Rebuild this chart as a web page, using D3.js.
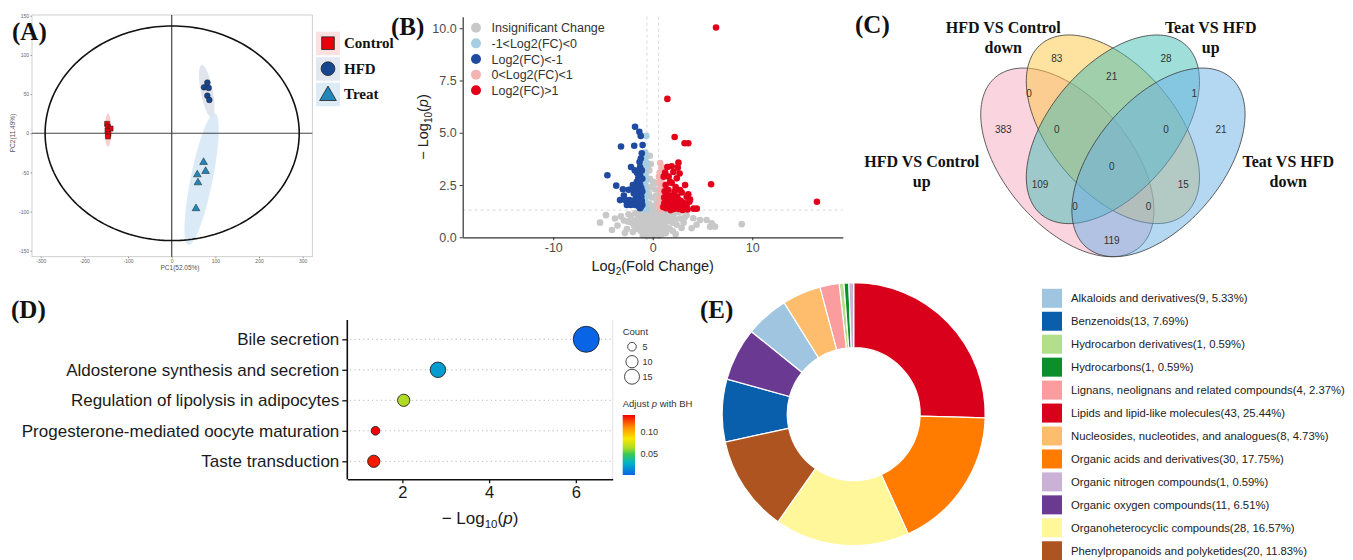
<!DOCTYPE html>
<html>
<head>
<meta charset="utf-8">
<script src="https://cdn.jsdelivr.net/npm/d3@7"></script>
<style>
  body { margin: 0; background: #fff; }
  svg { display: block; font-family: "Liberation Sans", Arial, sans-serif; }
  .panel-tag { font-family: "Liberation Serif", "Times New Roman", serif; font-weight: bold; font-size: 25px; }
  .serif-b { font-family: "Liberation Serif", "Times New Roman", serif; font-weight: bold; }
</style>
</head>
<body>
<svg id="fig" width="1353" height="560"></svg>
<script>
// ---------- data ----------
// (A) PCA scores
const pcaGroups = ["Control", "HFD", "Treat"];
const pcaControl = [[-148, 12], [-146, 8], [-140, 6], [-147, 3], [-145, -1], [-146, -4]];
const pcaHFD = [[74, 58.7], [81.6, 64.7], [84.6, 57.9], [81.6, 48], [86.2, 42.5]];
const pcaTreat = [[73, -37], [77.6, -48.5], [58.6, -52.8], [60.1, -63], [55.6, -96]];
// confidence ellipses: centre, semi-diameter u, conjugate semi-diameter v (data units)
const pcaEllControl = { c: [-146, 4], u: [0, 21], v: [7.5, 0] };
const pcaEllHFD = { c: [80.2, 53.8], u: [-11.5, 33.4], v: [13.5, 1.4] };
const pcaEllTreat = { c: [68.5, -58.6], u: [30.5, 84.1], v: [24.7, -2.8] };
const pcaEllAll = { c: [1, 0], u: [291, 0], v: [0, 137] };
const pcaXTicks = [-300, -200, -100, 0, 100, 200, 300];
const pcaYTicks = [-150, -100, -50, 0, 50, 100, 150];

// (B) volcano: [log2FC, -log10 p]
const volcanoGray = [[-0.3,3.9],[-0.2,3.5],[-0.35,3.2],[0.05,2.65],[0.3,2.6],[-0.3,2.8],[-0.25,2.4],[0.2,2.3],[-0.4,2.1],[0.35,2.0],[-0.1,1.9],[0.4,1.7],[-0.35,1.6],[0.1,1.5],[0.45,1.4],[-0.45,1.35],
  [-1.5,1.2],[-1.2,1.0],[-0.9,1.15],[-0.6,1.25],[-0.3,1.1],[0,1.2],[0.3,1.05],[0.6,1.2],[0.9,1.1],[1.2,1.0],[1.5,1.15],
  [-1.8,0.8],[-1.4,0.7],[-1.0,0.85],[-0.7,0.6],[-0.4,0.9],[-0.1,0.75],[0.2,0.9],[0.5,0.7],[0.8,0.85],[1.1,0.6],[1.4,0.75],[1.8,0.9],
  [-1.6,0.4],[-1.2,0.3],[-0.8,0.45],[-0.5,0.25],[-0.2,0.5],[0.1,0.35],[0.4,0.55],[0.7,0.3],[1.0,0.45],[1.3,0.2],[1.7,0.4],
  [-1.0,0.1],[-0.6,0.05],[-0.3,0.15],[0,0.05],[0.3,0.12],[0.6,0.08],[0.9,0.15],[-0.15,0.3],[0.15,0.62],[-0.8,1.0],
  [-5.3,0.7],[-4.7,1.06],[-3.54,0.56],[-2.9,0.8],[-2.43,1.1],[-2.1,0.7],[-2.6,0.4],[-2.2,1.0],[-1.9,0.55],
  [2.1,1.1],[2.4,0.6],[2.74,0.9],[3.1,0.7],[3.4,1.05],[3.91,0.43],[4.08,0.91],[4.4,0.6],[4.75,0.83],[5.42,0.83],[5.76,0.5],[5.93,0.67],[6.26,0.51],[8.94,0.63],[2.0,0.3],[2.3,0.15],
  [-2.8,0.2],[-3.2,1.0],[-2.5,0.75],[-1.75,1.15],[-1.3,0.55],[-0.95,0.3],[-0.55,0.75],[-0.25,0.95],[0.05,0.45],[0.25,0.25],[0.55,0.95],[0.85,0.55],[1.15,0.85],[1.45,0.45],[1.65,1.05],[1.95,0.7],[2.25,0.85],[2.6,1.2],[2.9,0.45],[3.2,0.95],
  [-1.45,0.95],[-1.05,0.6],[-0.7,0.2],[-0.35,0.65],[0.35,0.8],[0.75,1.0],[1.05,0.25],[-2.0,0.25],[-4.1,0.35],[-3.8,0.9],[0.0,0.9],[0.5,0.4],[-0.6,1.05],[1.3,1.25],[-1.1,1.25],[-0.15,1.25],[0.2,1.25]];
const volcanoLightBlue = [[-0.65,4.85],[-0.75,4.05],[-0.7,3.85],[-0.8,3.6],[-0.68,3.4],[-0.85,3.2],[-0.72,3.0],[-0.9,2.85],[-0.66,2.7],[-0.78,2.55],[-0.88,2.4],[-0.7,2.25],[-0.82,2.1],[-0.65,1.95],[-0.92,1.85],[-0.75,1.75],[-0.68,1.6],[-0.85,1.5],[-0.72,1.42],[-0.9,1.35],[-0.62,1.33],[-0.8,2.95],[-0.95,2.2],[-0.66,3.6],[-0.88,3.75]];
const volcanoBlue = [[-1.78,5.29],[-1.35,5.05],[-1.21,4.85],[-3.19,4.34],[-1.86,4.38],[-1.02,4.41],[-1.1,4.02],[-1.2,3.77],[-1.33,3.6],[-1.27,3.36],[-2.18,3.36],[-1.8,3.2],[-1.57,3.07],[-1.27,2.97],[-4.56,2.97],[-3.67,2.47],[-3.0,2.3],[-2.43,2.27],[-2.1,2.3],[-1.6,2.35],[-1.27,2.51],[-1.05,2.19],[-1.27,2.74],[-1.6,2.66],[-1.33,2.0],[-1.6,1.97],[-3.29,1.78],[-2.78,1.78],[-2.34,1.78],[-1.95,1.75],[-1.54,1.7],[-1.1,1.75],[-1.05,1.55],[-1.78,1.55],[-1.27,1.39],[-1.9,2.1],[-1.4,2.25],[-1.15,1.95],[-1.45,1.5],[-2.0,2.5],[-1.1,3.2],[-1.05,2.8],
  [-1.15,2.35],[-1.45,2.85],[-1.7,1.85],[-2.2,1.55],[-2.6,1.55],[-1.35,1.6],[-1.2,1.45],[-2.9,2.0]];
const volcanoPink = [[0.75,3.55],[0.9,3.35],[0.7,3.1],[0.85,2.85],[0.68,2.65],[0.8,2.4],[0.72,2.2],[0.9,2.0],[0.7,1.85],[0.82,1.7],[0.66,1.55],[0.88,1.45],[0.74,1.35],[0.95,2.6],[0.62,2.9]];
const volcanoRed = [[6.36,10.03],[1.47,6.62],[2.2,4.8],[3.2,4.5],[3.57,4.5],[2.58,3.57],[2.51,3.33],[1.47,3.36],[2.07,3.12],[2.7,3.05],[1.1,2.9],[1.74,2.66],[2.41,2.82],[3.25,2.5],[2.74,2.26],[1.57,2.26],[1.34,2.02],[2.07,1.98],[2.57,1.79],[3.41,1.94],[1.54,1.79],[1.17,1.63],[1.74,1.55],[2.24,1.47],[2.91,1.55],[3.25,1.39],[1.34,1.39],[3.68,1.7],[5.86,2.54],[2.91,2.14],[3.57,2.06],[3.75,1.8],[3.5,1.33],[4.1,1.37],[4.42,1.37],[16.5,1.7],[1.2,2.2],[1.9,2.0],[1.4,1.9],[2.3,2.4],[1.8,1.3],[2.6,1.35],[1.05,1.45],[1.25,1.75],[2.0,1.75],[1.6,1.5],[3.0,1.3],
  [1.3,2.5],[1.6,2.9],[1.9,2.6],[2.2,2.2],[2.45,1.95],[2.8,1.75],[3.1,1.65],[1.15,1.9],[1.45,1.6],[2.1,1.35],[2.4,1.6],[2.75,1.4],[3.4,1.5],[1.9,3.4],[1.25,3.1]];
const volcanoLabels = ["Insignificant Change", "-1<Log2(FC)<0", "Log2(FC)<-1", "0<Log2(FC)<1", "Log2(FC)>1"];
const volcanoXTicks = [-10, 0, 10];
const volcanoYTicks = [0, 2.5, 5, 7.5, 10];
const fcCut = 0.585, pCut = 1.3;

// (C) Venn
const vennSets = ["HFD VS Control up", "HFD VS Control down", "Teat VS HFD up", "Teat VS HFD down"];
const vennCounts = [83, 28, 21, 0, 1, 383, 0, 0, 21, 0, 109, 15, 0, 0, 119];

// (D) KEGG enrichment
const pathways = ["Bile secretion", "Aldosterone synthesis and secretion", "Regulation of lipolysis in adipocytes",
  "Progesterone-mediated oocyte maturation", "Taste transduction"];
const pathNegLogP = [6.24, 2.82, 2.03, 1.38, 1.34];
const pathCount = [45, 16, 10, 5, 10];
const pathPadj = [0.003, 0.022, 0.064, 0.137, 0.132];
const countBreaks = [5, 10, 15];
const padjTicks = [0.05, 0.10];
const enrichXTicks = [2, 4, 6];

// (E) compound classes
const classNames = ["Alkaloids and derivatives", "Benzenoids", "Hydrocarbon derivatives", "Hydrocarbons",
  "Lignans, neolignans and related compounds", "Lipids and lipid-like molecules", "Nucleosides, nucleotides, and analogues",
  "Organic acids and derivatives", "Organic nitrogen compounds", "Organic oxygen compounds",
  "Organoheterocyclic compounds", "Phenylpropanoids and polyketides"];
const classCounts = [9, 13, 1, 1, 4, 43, 8, 30, 1, 11, 28, 20];

// ---------- styles ----------
const pcaColors = ["#e8000b", "#17458f", "#2386b8"];
const pcaEllColors = ["#f7c6c6", "#d9dfea", "#d3e6f4"];
const pcaLegendBg = ["#fde0e0", "#e4e9f1", "#dcebf6"];
const volcanoColors = ["#c8c8c8", "#a6cee3", "#1f4aa0", "#f4b4b2", "#e3001b"];
const vennColors = ["#f5a9bd", "#fbc541", "#41bdb5", "#69afe5"];
const classColors = ["#9fc5e0", "#0a5fad", "#b2df8a", "#0a8f2a", "#fb9d9e", "#d9001b", "#fdbd6c",
  "#ff7c00", "#cab2d6", "#6a3a92", "#fff799", "#ae5420"];
const padjStops = [0.003, 0.03, 0.05, 0.063, 0.085, 0.11, 0.137];
const padjColors = ["#0a64e6", "#00b4c8", "#3cc850", "#aadc28", "#fae600", "#ff8c00", "#f00000"];

const svg = d3.select("#fig");

// ================= (A) PCA =================
const ax = d3.scaleLinear().domain([-320, 322]).range([32, 312.3]);
const ay = d3.scaleLinear().domain([-157.6, 151]).range([256.7, 15]);
const gA = svg.append("g");

const ellPoints = (e, n = 120) => d3.range(n + 1).map(i => {
  const t = i / n * 2 * Math.PI;
  return [e.c[0] + Math.cos(t) * e.u[0] + Math.sin(t) * e.v[0],
          e.c[1] + Math.cos(t) * e.u[1] + Math.sin(t) * e.v[1]];
});
const lineA = d3.line().x(d => ax(d[0])).y(d => ay(d[1]));

gA.append("rect").attr("x", 32).attr("y", 15).attr("width", 280.3).attr("height", 241.7)
  .attr("fill", "none").attr("stroke", "#c4c4c4").attr("stroke-width", 0.8);

const axA = gA.append("g").attr("transform", "translate(0,256.7)")
  .call(d3.axisBottom(ax).tickValues(pcaXTicks).tickSize(1.5).tickSizeOuter(0).tickPadding(1.5).tickFormat(d => String(d)));
const ayA = gA.append("g").attr("transform", "translate(32,0)")
  .call(d3.axisLeft(ay).tickValues(pcaYTicks).tickSize(1.5).tickSizeOuter(0).tickPadding(1.5).tickFormat(d => String(d)));
[axA, ayA].forEach(a => {
  a.select(".domain").remove();
  a.selectAll("line").attr("stroke", "#999");
  a.selectAll("text").attr("font-size", 5).attr("fill", "#666");
});
gA.append("text").attr("x", 180).attr("y", 270).attr("text-anchor", "middle")
  .attr("font-size", 6.5).attr("fill", "#555").text("PC1(52.05%)");
gA.append("text").attr("transform", "translate(15,133) rotate(-90)").attr("text-anchor", "middle")
  .attr("font-size", 6.5).attr("fill", "#555").text("PC2(11.49%)");

[pcaEllControl, pcaEllHFD, pcaEllTreat].forEach((e, i) => {
  gA.append("path").attr("d", lineA(ellPoints(e))).attr("fill", pcaEllColors[i]).attr("opacity", 0.85);
});
// zero lines
gA.append("line").attr("x1", ax(0)).attr("x2", ax(0)).attr("y1", 15).attr("y2", 256.7).attr("stroke", "#444").attr("stroke-width", 1.2);
gA.append("line").attr("x1", 32).attr("x2", 312.3).attr("y1", ay(0)).attr("y2", ay(0)).attr("stroke", "#444").attr("stroke-width", 1.2);
gA.append("path").attr("d", lineA(ellPoints(pcaEllAll, 200))).attr("fill", "none").attr("stroke", "#111").attr("stroke-width", 1.6);

const pcaShapes = [d3.symbolSquare, d3.symbolCircle, d3.symbolTriangle];
[pcaControl, pcaHFD, pcaTreat].forEach((pts, i) => {
  gA.append("g").selectAll("path").data(pts).join("path")
    .attr("transform", d => `translate(${ax(d[0])},${ay(d[1])})`)
    .attr("d", d3.symbol(pcaShapes[i], 26))
    .attr("fill", pcaColors[i]).attr("stroke", "#222").attr("stroke-width", 0.5);
});

// legend A
const legA = gA.append("g").selectAll("g").data(pcaGroups).join("g")
  .attr("transform", (d, i) => `translate(316,${31.7 + i * 25.5})`);
legA.append("rect").attr("width", 24).attr("height", 23.5).attr("fill", (d, i) => pcaLegendBg[i]);
legA.append("path").attr("transform", (d, i) => `translate(12,${i === 2 ? 13 : 11.5})`)
  .attr("d", (d, i) => d3.symbol(pcaShapes[i], i === 0 ? 160 : i === 1 ? 150 : 120)())
  .attr("fill", (d, i) => pcaColors[i]).attr("stroke", "#222").attr("stroke-width", 0.8);
legA.append("text").attr("class", "serif-b").attr("x", 28).attr("y", 16.5).attr("font-size", 15)
  .attr("fill", "#111").text(d => d);

// ================= (B) Volcano =================
const bx = d3.scaleLinear().domain([-19.1, 19.1]).range([462.7, 842.8]);
const by = d3.scaleLinear().domain([0, 10.55]).range([237.3, 16.7]);
const gB = svg.append("g");

gB.selectAll("line.thr").data([-fcCut, fcCut]).join("line").attr("class", "thr")
  .attr("x1", d => bx(d)).attr("x2", d => bx(d)).attr("y1", by(10.55)).attr("y2", by(0))
  .attr("stroke", "#d0d0d0").attr("stroke-dasharray", "3,3").attr("stroke-width", 0.8);
gB.append("line").attr("x1", bx(-19.1)).attr("x2", bx(19.1)).attr("y1", by(pCut)).attr("y2", by(pCut))
  .attr("stroke", "#d0d0d0").attr("stroke-dasharray", "3,3").attr("stroke-width", 0.8);

[volcanoGray, volcanoLightBlue, volcanoPink, volcanoBlue, volcanoRed].forEach((pts, k) => {
  const ci = [0, 1, 3, 2, 4][k];
  gB.append("g").selectAll("circle").data(pts).join("circle")
    .attr("cx", d => bx(d[0])).attr("cy", d => by(d[1])).attr("r", 3.3)
    .attr("fill", volcanoColors[ci]);
});

const bxAxis = gB.append("g").attr("transform", "translate(0,237.3)")
  .call(d3.axisBottom(bx).tickValues(volcanoXTicks).tickSize(3).tickSizeOuter(0).tickFormat(d => String(d)));
const byAxis = gB.append("g").attr("transform", "translate(462.7,0)")
  .call(d3.axisLeft(by).tickValues(volcanoYTicks).tickSize(3).tickSizeOuter(0).tickFormat(d3.format(".1f")));
[bxAxis, byAxis].forEach(a => {
  a.select(".domain").attr("stroke", "#333").attr("stroke-width", 1.2);
  a.selectAll("line").attr("stroke", "#333");
  a.selectAll("text").attr("font-size", 12.5).attr("fill", "#4d4d4d");
});

const bTitleX = gB.append("text").attr("x", 652.7).attr("y", 271).attr("text-anchor", "middle")
  .attr("font-size", 14.5).attr("fill", "#222");
bTitleX.append("tspan").text("Log");
bTitleX.append("tspan").attr("font-size", 10).attr("dy", 4).text("2");
bTitleX.append("tspan").attr("dy", -4).text("(Fold Change)");
const bTitleY = gB.append("text").attr("transform", "translate(428,127) rotate(-90)").attr("text-anchor", "middle")
  .attr("font-size", 14.5).attr("fill", "#222");
bTitleY.append("tspan").text("\u2212 Log");
bTitleY.append("tspan").attr("font-size", 10).attr("dy", 4).text("10");
bTitleY.append("tspan").attr("dy", -4).text("(");
bTitleY.append("tspan").attr("font-style", "italic").text("p");
bTitleY.append("tspan").text(")");

const legB = gB.append("g").selectAll("g").data(volcanoLabels).join("g")
  .attr("transform", (d, i) => `translate(476,${27.7 + i * 15.65})`);
legB.append("circle").attr("r", 5).attr("fill", (d, i) => volcanoColors[i]);
legB.append("text").attr("x", 15.5).attr("y", 4.5).attr("font-size", 12.5).attr("fill", "#333").text(d => d);

// ================= (C) Venn =================
const vx = d3.scaleLinear().domain([0, 1]).range([961, 1264.8]);
const vy = d3.scaleLinear().domain([0, 1]).range([317.9, -13]);
const gC = svg.append("g");
const vennShapes = [
  { c: [0.35, 0.47], rot: 135 }, { c: [0.5, 0.57], rot: 135 },
  { c: [0.5, 0.57], rot: 45 }, { c: [0.65, 0.47], rot: 45 }];
const vennA = 0.35, vennB = 0.2;
const vennLine = d3.line().x(d => vx(d[0])).y(d => vy(d[1])).curve(d3.curveLinearClosed);
vennShapes.forEach((s, i) => {
  const th = s.rot * Math.PI / 180;
  const pts = d3.range(160).map(k => {
    const t = k / 160 * 2 * Math.PI;
    const lx = vennA * Math.cos(t), ly = vennB * Math.sin(t);
    return [s.c[0] + lx * Math.cos(th) - ly * Math.sin(th), s.c[1] + lx * Math.sin(th) + ly * Math.cos(th)];
  });
  gC.append("path").attr("d", vennLine(pts)).attr("fill", vennColors[i]).attr("fill-opacity", 0.5)
    .attr("stroke", "#3a3a3a").attr("stroke-width", 0.8);
});
const vennLabelPos = [[0.315, 0.785], [0.675, 0.785], [0.496, 0.729], [0.224, 0.677], [0.768, 0.677],
  [0.139, 0.568], [0.315, 0.568], [0.675, 0.568], [0.856, 0.568], [0.496, 0.457],
  [0.26, 0.402], [0.732, 0.402], [0.375, 0.336], [0.617, 0.336], [0.496, 0.235]];
gC.append("g").selectAll("text").data(vennCounts).join("text")
  .attr("x", (d, i) => vx(vennLabelPos[i][0])).attr("y", (d, i) => vy(vennLabelPos[i][1]))
  .attr("dy", "0.35em").attr("text-anchor", "middle").attr("font-size", 10).attr("fill", "#333").text(d => d);

const vennTitlePos = [[921.7, 161.7], [1003.3, 27], [1210.7, 27], [1288.3, 161.7]];
vennSets.forEach((name, i) => {
  const cut = name.lastIndexOf(" ");
  const t = gC.append("text").attr("class", "serif-b").attr("text-anchor", "middle").attr("font-size", 16).attr("fill", "#111");
  t.append("tspan").attr("x", vennTitlePos[i][0]).attr("y", vennTitlePos[i][1] + 5.5).text(name.slice(0, cut));
  t.append("tspan").attr("x", vennTitlePos[i][0]).attr("y", vennTitlePos[i][1] + 25.5).text(name.slice(cut + 1));
});

// ================= (D) enrichment bubbles =================
const ex = d3.scaleLinear().domain([0.73, 6.85]).range([347.3, 612.7]);
const ey = d3.scalePoint().domain(pathways).range([339.3, 461.3]);
const er = d3.scaleSqrt().domain([0, 15]).range([0, 7.5]);
const ec = d3.scaleLinear().domain(padjStops).range(padjColors);
const gD = svg.append("g");

gD.append("g").selectAll("line").data(pathways).join("line")
  .attr("x1", 350).attr("x2", 612.7).attr("y1", d => ey(d)).attr("y2", d => ey(d))
  .attr("stroke", "#b8b8b8").attr("stroke-width", 1).attr("stroke-dasharray", "1.2,3.2");
gD.append("line").attr("x1", 612.7).attr("x2", 612.7).attr("y1", 320).attr("y2", 479.3).attr("stroke", "#e2e2e2");

const dyAxis = gD.append("g").attr("transform", "translate(347.3,0)")
  .call(d3.axisLeft(ey).tickSize(5).tickPadding(3));
dyAxis.select(".domain").attr("d", "M0,320V479.3").attr("stroke", "#111").attr("stroke-width", 1.6);
dyAxis.selectAll("line").attr("stroke", "#111").attr("stroke-width", 1.3);
dyAxis.selectAll("text").attr("font-size", 17).attr("fill", "#1a1a1a");

const dxAxis = gD.append("g").attr("transform", "translate(0,479.3)")
  .call(d3.axisBottom(ex).tickValues(enrichXTicks).tickSize(4).tickSizeOuter(0).tickPadding(3).tickFormat(d3.format("d")));
dxAxis.select(".domain").attr("stroke", "#111").attr("stroke-width", 1.6);
dxAxis.selectAll("line").attr("stroke", "#111").attr("stroke-width", 1.3);
dxAxis.selectAll("text").attr("font-size", 16.5).attr("fill", "#1a1a1a");

const dTitle = gD.append("text").attr("x", 480).attr("y", 524).attr("text-anchor", "middle")
  .attr("font-size", 17).attr("fill", "#1a1a1a");
dTitle.append("tspan").text("\u2212 Log");
dTitle.append("tspan").attr("font-size", 11.5).attr("dy", 4).text("10");
dTitle.append("tspan").attr("dy", -4).text("(");
dTitle.append("tspan").attr("font-style", "italic").text("p");
dTitle.append("tspan").text(")");

gD.append("g").selectAll("circle").data(pathways).join("circle")
  .attr("cx", (d, i) => ex(pathNegLogP[i])).attr("cy", d => ey(d))
  .attr("r", (d, i) => er(pathCount[i])).attr("fill", (d, i) => ec(pathPadj[i]))
  .attr("stroke", "#222").attr("stroke-width", 0.9);

// legend: count
gD.append("text").attr("x", 622.7).attr("y", 335).attr("font-size", 9.5).attr("fill", "#333").text("Count");
const legCount = gD.append("g").selectAll("g").data(countBreaks).join("g")
  .attr("transform", (d, i) => `translate(632,${346.7 + i * 15})`);
legCount.append("circle").attr("r", d => er(d)).attr("fill", "none").attr("stroke", "#333").attr("stroke-width", 0.9);
legCount.append("text").attr("x", 10.5).attr("y", 3.5).attr("font-size", 9).attr("fill", "#333").text(d => d);

// legend: colourbar
const padjTitle = gD.append("text").attr("x", 622.7).attr("y", 406.5).attr("font-size", 9.5).attr("fill", "#333");
padjTitle.append("tspan").text("Adjust ");
padjTitle.append("tspan").attr("font-style", "italic").text("p");
padjTitle.append("tspan").text(" with BH");
const cbScale = d3.scaleLinear().domain([padjStops[0], padjStops[padjStops.length - 1]]).range([475, 415]);
const grad = svg.append("defs").append("linearGradient").attr("id", "padjGrad")
  .attr("x1", 0).attr("x2", 0).attr("y1", 1).attr("y2", 0);
grad.selectAll("stop").data(padjStops).join("stop")
  .attr("offset", d => (d - padjStops[0]) / (padjStops[padjStops.length - 1] - padjStops[0]))
  .attr("stop-color", (d, i) => padjColors[i]);
gD.append("rect").attr("x", 622.7).attr("y", 415).attr("width", 12.3).attr("height", 60).attr("fill", "url(#padjGrad)");
gD.append("g").selectAll("text").data(padjTicks).join("text")
  .attr("x", 640.5).attr("y", d => cbScale(d)).attr("dy", "0.35em").attr("font-size", 9).attr("fill", "#333")
  .text(d3.format(".2f"));

// ================= (E) donut =================
const gE = svg.append("g").attr("transform", "translate(853.7,414.2)");
const pie = d3.pie().value(d => d.count);
const arc = d3.arc().innerRadius(66.5).outerRadius(131.5);
const classData = classNames.map((n, i) => ({ name: n, count: classCounts[i], color: classColors[i] }));
gE.selectAll("path").data(pie(classData)).join("path")
  .attr("d", arc).attr("fill", d => d.data.color).attr("stroke", "#fff").attr("stroke-width", 1.2);

const total = d3.sum(classCounts);
const pct = d3.format(".2f");
const legE = svg.append("g").selectAll("g").data(classData).join("g")
  .attr("transform", (d, i) => `translate(1042,${298.3 + i * 22.95})`);
legE.append("rect").attr("y", -9.5).attr("width", 20).attr("height", 19).attr("fill", d => d.color);
legE.append("text").attr("x", 29).attr("dy", "0.35em").attr("font-size", 11.3).attr("fill", "#222")
  .text(d => `${d.name}(${d.count}, ${pct(d.count / total * 100)}%)`);

// ---------- panel tags ----------
const tags = [["(A)", 12, 40], ["(B)", 391, 35], ["(C)", 855, 33], ["(D)", 11, 318], ["(E)", 700, 318]];
svg.append("g").selectAll("text").data(tags).join("text").attr("class", "panel-tag")
  .attr("x", d => d[1]).attr("y", d => d[2]).attr("fill", "#111").text(d => d[0]);
</script>
</body>
</html>
